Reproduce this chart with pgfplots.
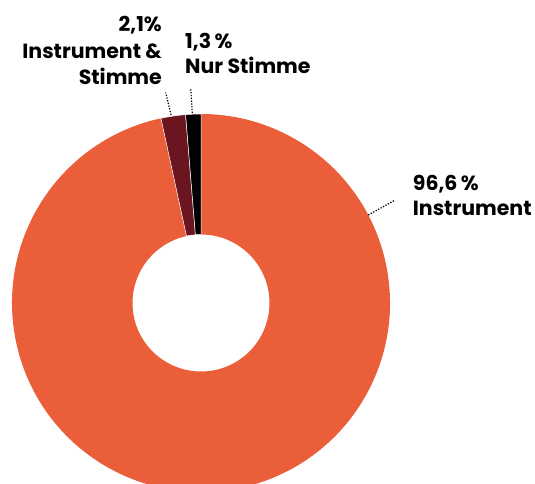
\documentclass[border=0pt]{standalone}
\usepackage{pgfplots}
\pgfplotsset{compat=1.18}
\usepackage{pgfplotstable}
\usepackage{fontspec}
\setmainfont{Poppins}[BoldFont={* Bold}]
\definecolor{cOrange}{HTML}{EB5E3A}
\definecolor{cDark}{HTML}{6A1520}
\definecolor{cBlack}{HTML}{000000}
% shares in percent: Nur Stimme, Instrument & Stimme, Instrument
\pgfplotstableread{
value
1.3
2.1
96.6
}\slices
\begin{document}%
\begin{tikzpicture}[
  lbl/.style={inner sep=0pt, font=\fontsize{20.5}{23}\selectfont\bfseries},
  lead/.style={line width=1.2pt, dash pattern=on 1.3pt off 1.5pt},
  sep/.style={draw=white, line width=0.5pt}]
\pgfplotstablegetelem{0}{value}\of\slices \xdef\valA{\pgfplotsretval}
\pgfplotstablegetelem{1}{value}\of\slices \xdef\valB{\pgfplotsretval}
\pgfplotstablegetelem{2}{value}\of\slices \xdef\valC{\pgfplotsretval}
\pgfmathsetmacro\angA{90}\global\let\angA\angA
\pgfmathsetmacro\angB{\angA+3.6*\valA}\global\let\angB\angB
\pgfmathsetmacro\angC{\angB+3.6*\valB}\global\let\angC\angC
\pgfmathsetmacro\angD{\angC+3.6*\valC}\global\let\angD\angD
\begin{axis}[
  x=1pt, y=1pt,
  xmin=0, xmax=535, ymin=0, ymax=484,
  y dir=reverse,
  enlargelimits=false,
  axis line style={draw=none},
  ticks=none,
  clip=true,
]
\begin{scope}[shift={(axis cs:201,303)}]
\fill[cOrange] (\angC:189pt) arc (\angC:\angD:189pt) -- (\angD:68.5pt) arc (\angD:\angC:68.5pt) -- cycle;
\filldraw[cDark, sep] (\angB:189pt) arc (\angB:\angC:189pt) -- (\angC:68.5pt) arc (\angC:\angB:68.5pt) -- cycle;
\filldraw[cBlack, sep] (\angA:189pt) arc (\angA:\angB:189pt) -- (\angB:68.5pt) arc (\angB:\angA:68.5pt) -- cycle;
\end{scope}
% leader lines
\draw[lead] (axis cs:171,115) -- (axis cs:165.7,92.5);
\draw[lead] (axis cs:192.3,113) -- (axis cs:190.7,89);
\draw[lead] (axis cs:368.3,215) -- (axis cs:394,200.7);
% labels
\node[lbl, anchor=base east] at (axis cs:162,32) {2,1\%};
\node[lbl, anchor=base east] at (axis cs:162,59) {Instrument \&};
\node[lbl, anchor=base east] at (axis cs:162,85) {Stimme};
\node[lbl, anchor=base west] at (axis cs:185,49) {1,3\,\%};
\node[lbl, anchor=base west] at (axis cs:185,74) {Nur Stimme};
\node[lbl, anchor=base west] at (axis cs:412.7,190) {96,6\,\%};
\node[lbl, anchor=base west] at (axis cs:412.7,215.7) {Instrument};
\end{axis}
\end{tikzpicture}%
\end{document}
